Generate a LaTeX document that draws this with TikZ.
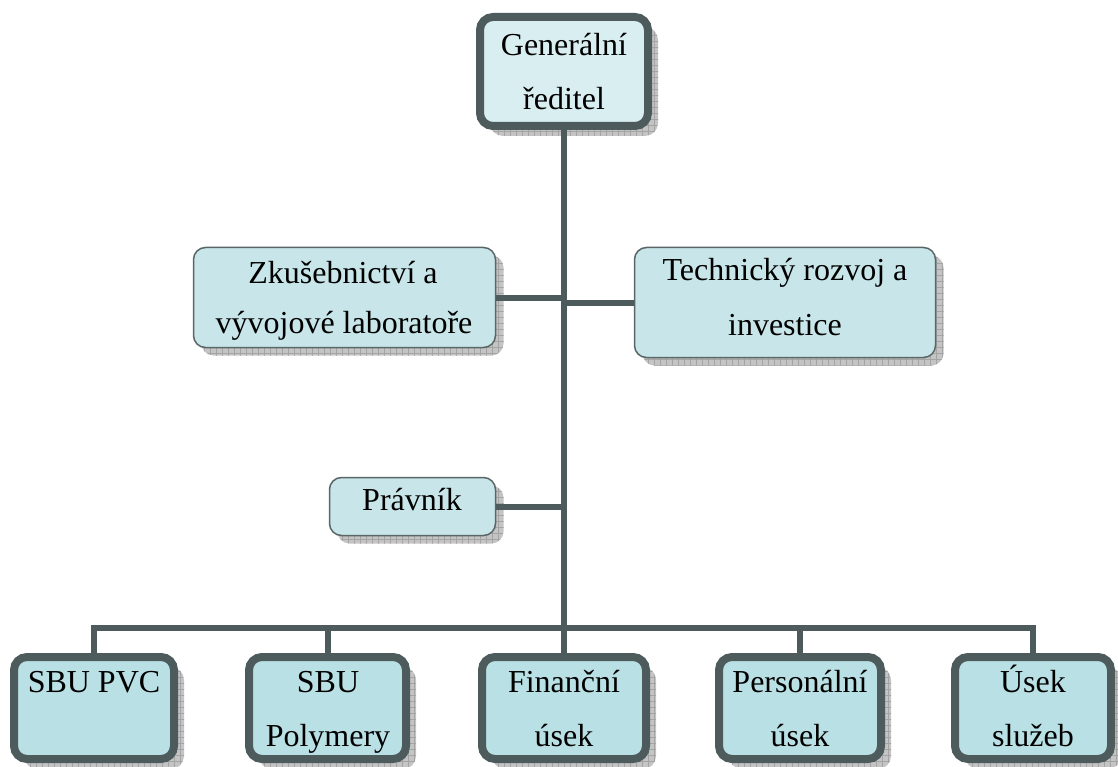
\documentclass[tikz,border=0pt]{standalone}
\usepackage{fontspec}
\setmainfont{Liberation Serif}
\usetikzlibrary{shadows,patterns.meta}
\definecolor{edge}{HTML}{4D5B5C}
\definecolor{thinedge}{HTML}{5A6666}
\definecolor{topfill}{HTML}{D9EEF0}
\definecolor{midfill}{HTML}{C8E6E9}
\definecolor{botfill}{HTML}{B9E0E4}
\definecolor{shade}{HTML}{C4C4C4}
\definecolor{shadeline}{HTML}{A4A4A4}
\tikzset{
  shd/.style={
    general shadow={shadow xshift=#1, shadow yshift=-#1, fill=shade},
    general shadow={shadow xshift=#1, shadow yshift=-#1, pattern={Lines[distance=6pt,angle=0,line width=0.6pt]}, pattern color=shadeline},
    general shadow={shadow xshift=#1, shadow yshift=-#1, pattern={Lines[distance=6pt,angle=90,line width=0.6pt]}, pattern color=shadeline}},
  thickbox/.style={shape=rectangle, draw=edge, line width=8pt, rounded corners=13pt, inner sep=0pt, shd=10pt},
  thinbox/.style={shape=rectangle, draw=thinedge, line width=1.5pt, rounded corners=12pt, inner sep=0pt, fill=midfill, shd=8pt},
  conn/.style={draw=edge, line width=6pt},
  txt/.style={anchor=base, inner sep=0pt, font=\fontsize{32}{38}\selectfont},
}
\begin{document}
\begin{tikzpicture}[x=1pt,y=-1pt]
\useasboundingbox (0,0) rectangle (1118,767);
% boxes
\node[thickbox, fill=topfill, minimum width=168pt, minimum height=109pt] (gr) at (564,71.5) {};
\node[thinbox, minimum width=302pt, minimum height=100pt] (zk) at (344.5,297.5) {};
\node[thinbox, minimum width=301pt, minimum height=110pt] (tr) at (785,302.5) {};
\node[thinbox, minimum width=166pt, minimum height=58pt] (pr) at (412.5,506.5) {};
\node[thickbox, fill=botfill, minimum width=160pt, minimum height=102pt] (pvc) at (94,708) {};
\node[thickbox, fill=botfill, minimum width=157pt, minimum height=102pt] (pol) at (327.5,708) {};
\node[thickbox, fill=botfill, minimum width=164pt, minimum height=102pt] (fin) at (564,708) {};
\node[thickbox, fill=botfill, minimum width=162pt, minimum height=102pt] (per) at (800,708) {};
\node[thickbox, fill=botfill, minimum width=156pt, minimum height=102pt] (us) at (1033,708) {};
% connectors
\coordinate (bus) at (564.5,628);
\draw[conn] (gr.south) -- (gr.south |- bus);
\draw[conn] (zk.east) -- (zk.east -| bus);
\draw[conn] (tr.west) -- (tr.west -| bus);
\draw[conn] (pr.east) -- (pr.east -| bus);
\draw[conn, line cap=rect] (pvc.north |- bus) -- (us.north |- bus);
\foreach \n in {pvc,pol,fin,per,us} \draw[conn] (\n.north |- bus) -- (\n.north);
% texts
\node[txt] (gr1) at (564,56) {Generální};
\node[txt] (gr2) at (564,110) {ředitel};
\node[txt] (zk1) at (343,283) {Zkušebnictví a};
\node[txt] (zk2) at (344,333) {vývojové laboratoře};
\node[txt] (tr1) at (785,280) {Technický rozvoj a};
\node[txt] (tr2) at (785,335) {investice};
\node[txt] (pr1) at (412,510) {Právník};
\node[txt] (pvc1) at (94,692) {SBU PVC};
\node[txt] (pol1) at (328,692) {SBU};
\node[txt] (pol2) at (328,746) {Polymery};
\node[txt] (fin1) at (564,692) {Finanční};
\node[txt] (fin2) at (564,746) {úsek};
\node[txt] (per1) at (800,692) {Personální};
\node[txt] (per2) at (800,746) {úsek};
\node[txt] (us1) at (1033,692) {Úsek};
\node[txt] (us2) at (1033,746) {služeb};
\end{tikzpicture}
\end{document}
